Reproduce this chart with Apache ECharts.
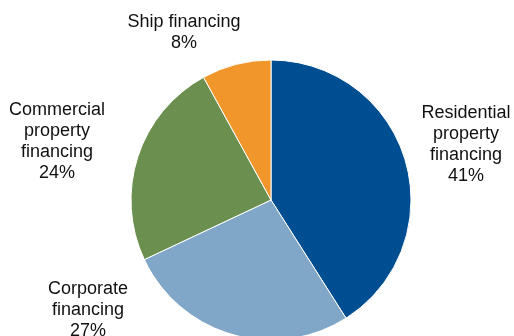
<!DOCTYPE html>
<html>
<head>
<meta charset="utf-8">
<script src="https://cdn.jsdelivr.net/npm/echarts@6/dist/echarts.min.js"></script>
<style>
  html, body { margin: 0; padding: 0; background: #ffffff; }
  #chart { width: 514px; height: 336px; }
</style>
</head>
<body>
<div id="chart"></div>
<script>
// Lending portfolio breakdown by segment (share of total, %)
const categories = [
  'Residential\nproperty\nfinancing',
  'Corporate\nfinancing',
  'Commercial\nproperty\nfinancing',
  'Ship financing'
];
const shares = [41, 27, 24, 8];
const colors = ['#004e92', '#80a7c8', '#6b8f4e', '#f0962b'];

// Label anchor points (label centre, px) for each segment
const labelAnchors = [
  [466, 145],
  [88, 310],
  [57, 142],
  [184, 33]
];

const chart = echarts.init(document.getElementById('chart'), null, { renderer: 'canvas' });

chart.setOption({
  animation: false,
  series: [{
    type: 'pie',
    center: [271, 200],
    radius: [0, 140],
    startAngle: 90,
    clockwise: true,
    avoidLabelOverlap: false,
    itemStyle: { borderColor: '#ffffff', borderWidth: 1 },
    label: {
      show: true,
      position: 'outside',
      formatter: p => p.name + '\n' + p.value + '%',
      fontFamily: 'Liberation Sans, Arial, sans-serif',
      fontSize: 18,
      lineHeight: 21,
      color: '#111111',
      align: 'center'
    },
    labelLine: { show: false },
    labelLayout: p => ({
      x: labelAnchors[p.dataIndex][0],
      y: labelAnchors[p.dataIndex][1],
      align: 'center',
      verticalAlign: 'middle'
    }),
    data: categories.map((c, i) => ({
      name: c,
      value: shares[i],
      itemStyle: { color: colors[i] }
    }))
  }]
});
</script>
</body>
</html>
